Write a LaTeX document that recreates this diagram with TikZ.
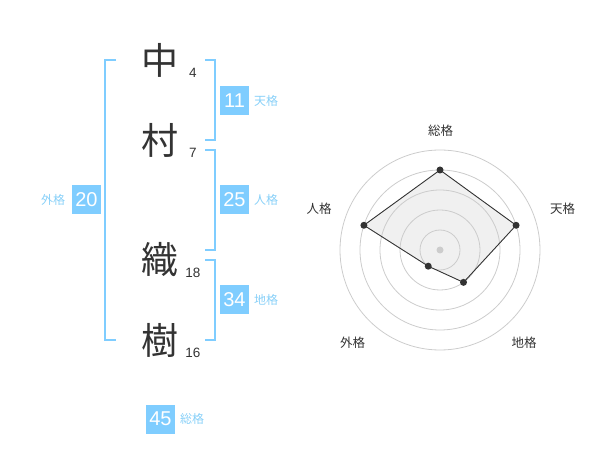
\documentclass[tikz,border=0pt]{standalone}
\usepackage{fontspec}
\setmainfont{Liberation Sans}
\newfontfamily\jp{Noto Sans CJK JP}
\definecolor{kanji}{HTML}{333333}
\definecolor{sky}{HTML}{7FCDFF}
\definecolor{skytext}{HTML}{88D0F8}
\definecolor{ringc}{HTML}{CCCCCC}
\definecolor{areafill}{HTML}{F0F0F0}
\begin{document}
\begin{tikzpicture}[x=1pt,y=-1pt,
  kanjichar/.style={font=\jp\fontsize{37}{37}\selectfont, text=kanji, inner sep=0},
  strokes/.style={font=\fontsize{13.5}{14}\selectfont, text=kanji, inner sep=0},
  valbox/.style={fill=sky, text=white, minimum width=29pt, minimum height=29pt, inner sep=0, font=\fontsize{20}{20}\selectfont},
  fortlabel/.style={font=\jp\fontsize{12}{12}\selectfont, text=skytext, inner sep=0},
  bracket/.style={draw=sky, line width=2pt},
  ring/.style={draw=ringc, line width=0.8pt},
  axislabel/.style={font=\jp\fontsize{12.5}{12.5}\selectfont, text=kanji, inner sep=0},
  dot/.style={circle, fill=kanji, inner sep=0, minimum size=7pt},
]
\useasboundingbox (0,0) rectangle (600,470);
% name characters
\node[kanjichar] (c1) at (160,60) {中};
\node[kanjichar] (c2) at (160,140) {村};
\node[kanjichar] (c3) at (160,260) {織};
\node[kanjichar] (c4) at (160,340) {樹};
\node[strokes] (n1) at (193,73) {4};
\node[strokes] (n2) at (193,153) {7};
\node[strokes] (n3) at (193,273) {18};
\node[strokes] (n4) at (193,353) {16};
% brackets
\draw[bracket] (116,60) -- (105,60) -- (105,340) -- (116,340);
\draw[bracket] (205,60) -- (215,60) -- (215,140) -- (205,140);
\draw[bracket] (205,150) -- (215,150) -- (215,250) -- (205,250);
\draw[bracket] (205,260) -- (215,260) -- (215,340) -- (205,340);
% value boxes
\node[valbox] (ten) at (234.5,100.5) {11};
\node[fortlabel] (tenl) at (266,100.5) {天格};
\node[valbox] (jin) at (234.5,200) {25};
\node[fortlabel] (jinl) at (266,200) {人格};
\node[valbox] (chi) at (234.5,300) {34};
\node[fortlabel] (chil) at (266,300) {地格};
\node[valbox] (gai) at (86.5,200) {20};
\node[fortlabel] (gail) at (53,200) {外格};
\node[valbox] (sou) at (160.5,419) {45};
\node[fortlabel] (soul) at (192,419) {総格};
% radar chart
\coordinate (O) at (440,250);
\coordinate (pS) at (440,170);
\coordinate (pT) at (516.08,225.28);
\coordinate (pC) at (463.51,282.36);
\coordinate (pG) at (428.24,266.18);
\coordinate (pJ) at (363.92,225.28);
\fill[areafill] (pS) -- (pT) -- (pC) -- (pG) -- (pJ) -- cycle;
\foreach \r in {20,40,60,80,100} \draw[ring] (O) circle[radius=\r];
\fill[ringc] (O) circle[radius=3.5];
\draw[kanji, line width=0.9pt] (pS) -- (pT) -- (pC) -- (pG) -- (pJ) -- cycle;
\foreach \p in {pS,pT,pC,pG,pJ} \node[dot] at (\p) {};
\node[axislabel] (aS) at (440.5,130.5) {総格};
\node[axislabel] (aT) at (562.5,208.5) {天格};
\node[axislabel] (aC) at (524,342.5) {地格};
\node[axislabel] (aG) at (352.5,342.5) {外格};
\node[axislabel] (aJ) at (319,208.5) {人格};
\end{tikzpicture}
\end{document}
